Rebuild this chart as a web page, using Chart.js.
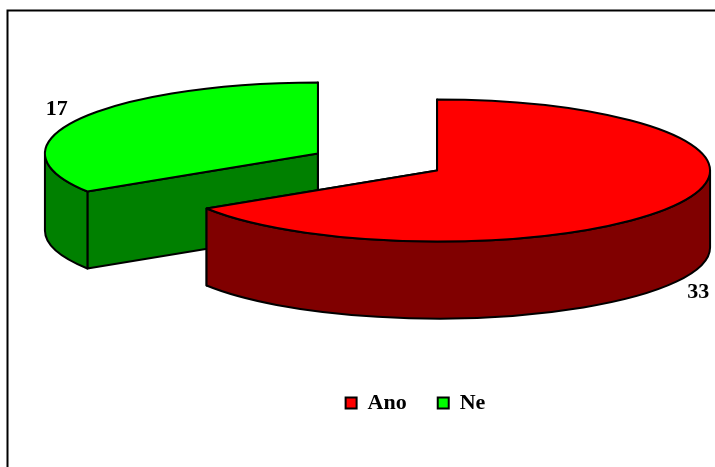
<!DOCTYPE html>
<html>
<head>
<meta charset="utf-8">
<title>Ano / Ne</title>
<style>
  html, body { margin: 0; padding: 0; background: #fff; }
  canvas { display: block; }
</style>
<script src="https://cdn.jsdelivr.net/npm/chart.js@4/dist/chart.umd.js"></script>
</head>
<body>
<canvas id="pieChart" width="715" height="467"></canvas>
<script>
const categories = ['Ano', 'Ne'];
const counts = [33, 17];
const topColors = ['#ff0000', '#00ff00'];
const sideColors = ['#800000', '#008000'];

// Fake 3D settings for the pie
const tilt = 0.26;
const depth = 77;
const explode = 0.249;
const fontFamily = '"Liberation Serif", "Times New Roman", serif';

function sliceCentre(arc) {
    const mid = (arc.startAngle + arc.endAngle) / 2;
    return {
        x: arc.x + Math.cos(mid) * arc.outerRadius * explode,
        y: arc.y + Math.sin(mid) * arc.outerRadius * explode * tilt,
        mid: mid
    };
}

function paint(ctx, fill) {
    ctx.fillStyle = fill;
    ctx.fill();
    ctx.stroke();
}

function drawSlice(ctx, arc, sideColor) {
    const c = sliceCentre(arc);
    const rx = arc.outerRadius;
    const ry = rx * tilt;

    // Cut faces, they end up hidden when they point away
    [arc.startAngle, arc.endAngle].forEach(a => {
        const px = c.x + Math.cos(a) * rx;
        const py = c.y + Math.sin(a) * ry;
        ctx.beginPath();
        ctx.moveTo(c.x, c.y);
        ctx.lineTo(px, py);
        ctx.lineTo(px, py + depth);
        ctx.lineTo(c.x, c.y + depth);
        ctx.closePath();
        paint(ctx, sideColor);
    });

    // Rim wall, only the front half of the ellipse shows
    [-2 * Math.PI, 0, 2 * Math.PI].forEach(k => {
        const a = Math.max(arc.startAngle, k);
        const b = Math.min(arc.endAngle, k + Math.PI);
        if (b <= a) return;
        ctx.beginPath();
        ctx.ellipse(c.x, c.y, rx, ry, 0, a, b);
        ctx.ellipse(c.x, c.y + depth, rx, ry, 0, b, a, true);
        ctx.closePath();
        paint(ctx, sideColor);
    });

    // Top face
    ctx.beginPath();
    ctx.moveTo(c.x, c.y);
    ctx.ellipse(c.x, c.y, rx, ry, 0, arc.startAngle, arc.endAngle);
    ctx.closePath();
    paint(ctx, arc.options.backgroundColor);
}

const pie3d = {
    id: 'pie3d',
    afterLayout(chart) {
        // Legend sits right of the pie centre and lower than the box layout puts it
        const legend = chart.legend;
        legend.left += 38;
        legend.right += 38;
        legend.top += 37;
        legend.bottom += 37;
    },
    beforeDraw(chart) {
        // Chart frame, only top and left edges are there
        const ctx = chart.ctx;
        ctx.save();
        ctx.strokeStyle = '#000';
        ctx.lineWidth = 2;
        ctx.beginPath();
        ctx.moveTo(7.5, chart.height);
        ctx.lineTo(7.5, 10.5);
        ctx.lineTo(chart.width, 10.5);
        ctx.stroke();
        ctx.restore();
    },
    beforeDatasetsDraw(chart) {
        const ctx = chart.ctx;
        const arcs = chart.getDatasetMeta(0).data;
        ctx.save();
        ctx.lineJoin = 'round';
        // Back slice first so the nearer one covers it
        arcs.map((arc, i) => ({ arc, i }))
            .sort((p, q) => sliceCentre(p.arc).y - sliceCentre(q.arc).y)
            .forEach(({ arc, i }) => {
                ctx.strokeStyle = arc.options.borderColor;
                ctx.lineWidth = arc.options.borderWidth;
                drawSlice(ctx, arc, sideColors[i]);
            });
        ctx.restore();
        return false;
    },
    afterDraw(chart) {
        // Value labels just outside the rim at each slice's middle angle
        const ctx = chart.ctx;
        ctx.save();
        ctx.font = 'bold 22px ' + fontFamily;
        ctx.fillStyle = '#000';
        ctx.textAlign = 'center';
        ctx.textBaseline = 'middle';
        chart.getDatasetMeta(0).data.forEach((arc, i) => {
            const c = sliceCentre(arc);
            const sin = Math.sin(c.mid);
            const cos = Math.cos(c.mid);
            const x = c.x + cos * (arc.outerRadius + 25);
            const y = c.y + sin * (arc.outerRadius * tilt + 21) + (sin > 0 ? depth : 0);
            ctx.fillText(String(counts[i]), x, y);
        });
        ctx.restore();
    }
};

new Chart(document.getElementById('pieChart'), {
    type: 'pie',
    data: {
        labels: categories,
        datasets: [{
            data: counts,
            backgroundColor: topColors,
            borderColor: '#000',
            borderWidth: 2
        }]
    },
    options: {
        responsive: false,
        animation: false,
        events: [],
        radius: 273,
        layout: { padding: { left: 40, bottom: 80 } },
        plugins: {
            tooltip: { enabled: false },
            legend: {
                position: 'bottom',
                labels: {
                    boxWidth: 11,
                    boxHeight: 11,
                    padding: 31,
                    color: '#000',
                    font: { family: fontFamily, size: 22, weight: 'bold' }
                }
            }
        }
    },
    plugins: [pie3d]
});
</script>
</body>
</html>
